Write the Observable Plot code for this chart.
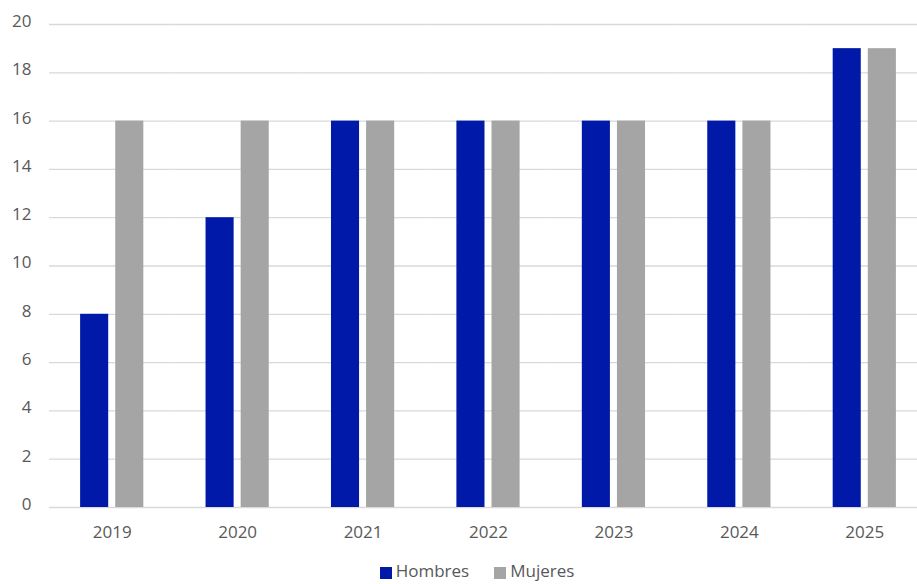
<!DOCTYPE html>
<html>
<head>
<meta charset="utf-8">
<script src="https://cdn.jsdelivr.net/npm/d3@7"></script>
<script src="https://cdn.jsdelivr.net/npm/@observablehq/plot@0.6"></script>
<style>
  html, body { margin: 0; padding: 0; background: #fff; overflow: hidden; width: 917px; height: 584px; }
  #chart { position: absolute; left: 0; top: 0; width: 917px; height: 556px; overflow: hidden; }
  #chart svg { max-width: none !important; }
  .legend { position: absolute; left: 0; top: 561px; width: 917px; display: flex; justify-content: center; gap: 25px; font-family: "Open Sans", sans-serif; font-size: 17px; line-height: 20px; color: #595959; padding-left: 37px; box-sizing: border-box; }
  .legend span { display: inline-flex; align-items: center; }
  .legend i { display: inline-block; width: 12px; height: 12px; margin-right: 4px; margin-top: 3px; }
</style>
</head>
<body>
<div id="chart"></div>
<script>
const years = ["2019", "2020", "2021", "2022", "2023", "2024", "2025"];
const hombres = [8, 12, 16, 16, 16, 16, 19];
const mujeres = [16, 16, 16, 16, 16, 16, 19];
const series = ["Hombres", "Mujeres"];
const colors = ["#0019A8", "#A5A5A5"];
const yTicks = [0, 2, 4, 6, 8, 10, 12, 14, 16, 18, 20];

const data = years.flatMap((year, i) => [
  {year, serie: series[0], value: hombres[i]},
  {year, serie: series[1], value: mujeres[i]}
]);

const chart = Plot.plot({
  width: 927,
  height: 556,
  marginLeft: 49,
  marginRight: 0,
  marginTop: 24,
  marginBottom: 49,
  style: {fontFamily: "'Open Sans', sans-serif", fontSize: "17px", color: "#595959", background: "#fff", maxWidth: "none"},
  fx: {domain: years, padding: 0, label: null, round: false},
  x: {domain: series, paddingInner: 0.2, paddingOuter: 0.886, axis: null, round: false},
  y: {domain: [0, 20], label: null},
  color: {domain: series, range: colors},
  marks: [
    Plot.ruleY(yTicks, {stroke: "#d9d9d9", strokeWidth: 1.3}),
    Plot.barY(data, {fx: "year", x: "serie", y: "value", fill: "serie"}),
    Plot.axisY({ticks: yTicks, tickSize: 0, tickPadding: 18, label: null, fill: "#595959", fontSize: 17, dy: -3}),
    Plot.axisFx({anchor: "bottom", tickSize: 0, tickPadding: 18, label: null, fill: "#595959", fontSize: 17})
  ]
});
document.getElementById("chart").appendChild(chart);

const legend = document.createElement("div");
legend.className = "legend";
series.forEach((s, i) => {
  const item = document.createElement("span");
  const sw = document.createElement("i");
  sw.style.background = colors[i];
  item.appendChild(sw);
  item.appendChild(document.createTextNode(s));
  legend.appendChild(item);
});
document.body.appendChild(legend);
</script>
</body>
</html>
